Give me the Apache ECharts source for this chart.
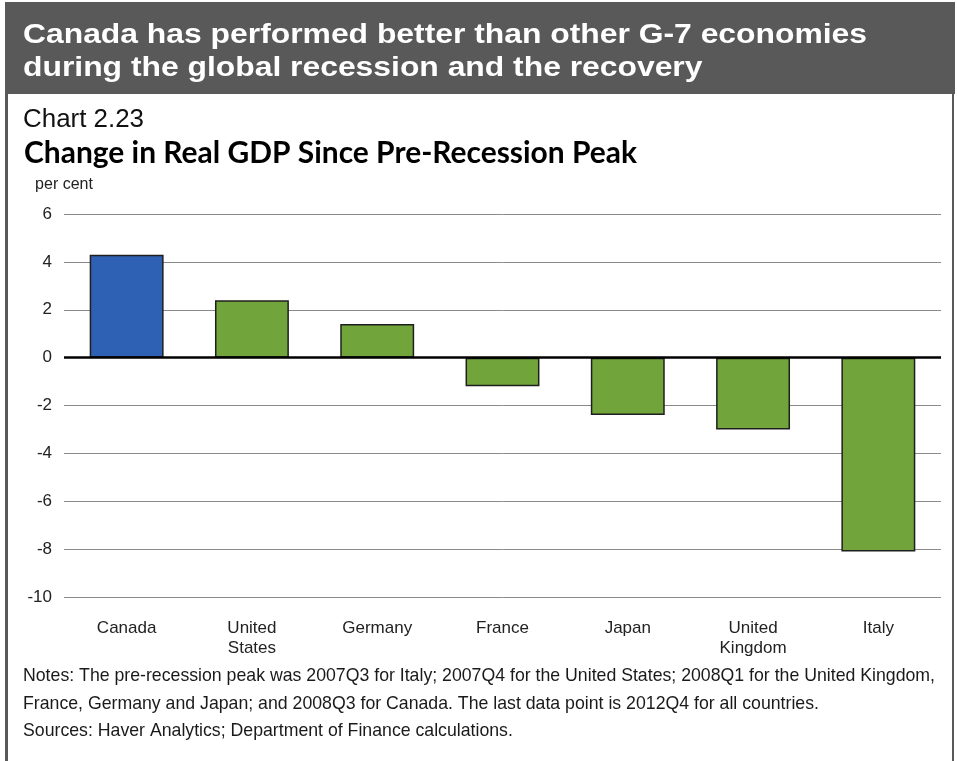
<!DOCTYPE html>
<html>
<head>
<meta charset="utf-8">
<script src="https://cdn.jsdelivr.net/npm/echarts@6/dist/echarts.min.js"></script>
<style>
  html, body { margin: 0; padding: 0; background: #ffffff; }
  #chart { width: 957px; height: 761px; }
</style>
</head>
<body>
<div id="chart"></div>
<script>
// ---- Data ----
const categories = ['Canada', 'United\nStates', 'Germany', 'France', 'Japan', 'United\nKingdom', 'Italy'];
const values = [4.3, 2.4, 1.4, -1.2, -2.4, -3.0, -8.1];
const highlightCategory = 'Canada';
const yTicks = [6, 4, 2, 0, -2, -4, -6, -8, -10];

const headerLines = [
  'Canada has performed better than other G-7 economies',
  'during the global recession and the recovery'
];
const chartNumber = 'Chart 2.23';
const chartTitle = 'Change in Real GDP Since Pre-Recession Peak';
const unitLabel = 'per cent';
const notesLines = [
  'Notes: The pre-recession peak was 2007Q3 for Italy; 2007Q4 for the United States; 2008Q1 for the United Kingdom,',
  'France, Germany and Japan; and 2008Q3 for Canada. The last data point is 2012Q4 for all countries.'
];
const sourcesLine = 'Sources: Haver Analytics; Department of Finance calculations.';

// ---- Styles ----
const BLUE = '#2e61b3';
const GREEN = '#71a43a';
const HEADER = '#595959';
const FONT = '"Liberation Sans", Arial, Helvetica, sans-serif';

const measureCtx = document.createElement('canvas').getContext('2d');
function textWidth(text, font) {
  measureCtx.font = font;
  return measureCtx.measureText(text).width;
}
function fit(text, font, target) { return target / textWidth(text, font); }

const titleFont = 'bold 28px ' + FONT;
const titleScale = fit(headerLines[0], titleFont, 844);
const numFont = '25px ' + FONT;
const numScale = fit(chartNumber, numFont, 121);
const subFont = 'bold 31px Lato, "Open Sans", sans-serif';
const subScale = fit(chartTitle, subFont, 613);
const notesFont = '18.5px ' + FONT;
const notesScale = fit(notesLines[0], notesFont, 912);

function txt(text, x, y, font, fill, scale) {
  return {
    type: 'text', x: x, y: y, scaleX: scale, scaleY: 1, silent: true,
    style: { text: text, font: font, fill: fill, textAlign: 'left', textVerticalAlign: 'middle' }
  };
}

const chart = echarts.init(document.getElementById('chart'), null, { renderer: 'canvas' });

const option = {
  animation: false,
  backgroundColor: '#ffffff',
  textStyle: { fontFamily: FONT },
  graphic: [
    { type: 'rect', shape: { x: 5, y: 2, width: 950, height: 92 }, style: { fill: HEADER }, silent: true },
    { type: 'rect', shape: { x: 5, y: 94, width: 3, height: 667 }, style: { fill: HEADER }, silent: true },
    { type: 'rect', shape: { x: 952, y: 94, width: 2, height: 667 }, style: { fill: HEADER }, silent: true },
    txt(headerLines[0], 23, 35, titleFont, '#ffffff', titleScale),
    txt(headerLines[1], 23, 68, titleFont, '#ffffff', titleScale),
    txt(chartNumber, 23, 120, numFont, '#111111', numScale),
    txt(chartTitle, 24, 153, subFont, '#000000', subScale),
    txt(notesLines[0], 23, 676, notesFont, '#1a1a1a', notesScale),
    txt(notesLines[1], 23, 704, notesFont, '#1a1a1a', notesScale),
    txt(sourcesLine, 23, 731, notesFont, '#1a1a1a', notesScale)
  ],
  grid: { left: 64, right: 16, top: 214, bottom: 164, containLabel: false },
  xAxis: {
    type: 'category',
    data: categories,
    axisLine: { show: false, onZero: false },
    axisTick: { show: false },
    splitLine: { show: false },
    axisLabel: {
      color: '#222222', fontSize: 17, fontFamily: FONT, lineHeight: 20, margin: 21,
      interval: 0
    }
  },
  yAxis: {
    type: 'value',
    min: yTicks[yTicks.length - 1],
    max: yTicks[0],
    interval: 2,
    name: unitLabel,
    nameLocation: 'end',
    nameGap: 29,
    nameTextStyle: { color: '#222222', fontSize: 16, fontFamily: FONT, align: 'center', verticalAlign: 'middle' },
    axisLine: { show: false },
    axisTick: { show: false },
    axisLabel: { color: '#222222', fontSize: 17, fontFamily: FONT, margin: 12 },
    splitLine: { show: true, lineStyle: { color: '#8a8a8a', width: 1 } }
  },
  series: [{
    type: 'bar',
    data: values,
    barWidth: '59%',
    itemStyle: {
      color: function (p) { return categories[p.dataIndex] === highlightCategory ? BLUE : GREEN; },
      borderColor: '#1f1f1f',
      borderWidth: 1.5
    },
    markLine: {
      silent: true,
      symbol: 'none',
      label: { show: false },
      lineStyle: { color: '#000000', width: 2.5, type: 'solid' },
      data: [{ yAxis: 0 }]
    }
  }]
};

chart.setOption(option);
</script>
</body>
</html>
